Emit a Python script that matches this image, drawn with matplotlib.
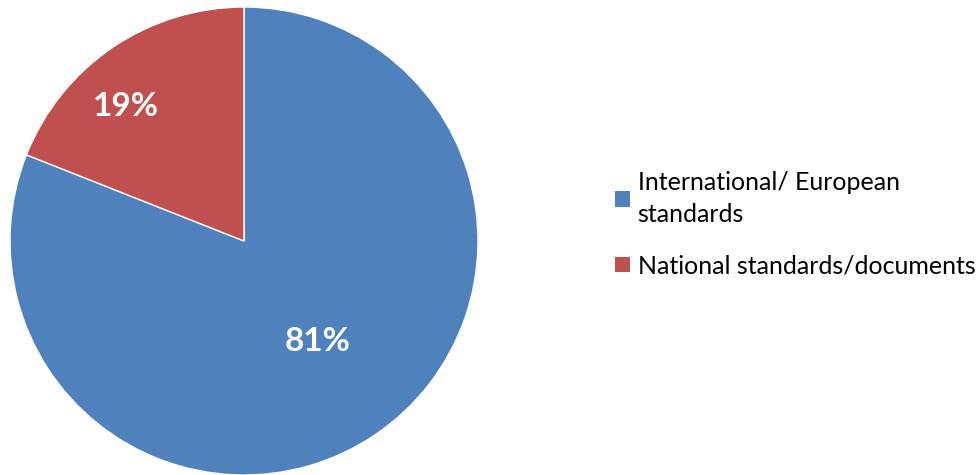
import matplotlib
matplotlib.use("Agg")
import matplotlib.pyplot as plt
import numpy as np
from matplotlib.patches import Patch

categories = ["International/ European\nstandards", "National standards/documents"]
values = [81, 19]
colors = ["#4F81BD", "#C0504D"]
label_radius = [0.53, 0.765]
label_angle_shift = [2, 7]

plt.rcParams['font.family'] = ['Lato', 'DejaVu Sans']

fig = plt.figure(figsize=(9.77, 4.75), dpi=100)
ax = fig.add_axes([10/977, 0, 468/977, 468/475])
wedges, _ = ax.pie(values, colors=colors, startangle=90, counterclock=False,
                   wedgeprops=dict(edgecolor="white", linewidth=1))
for w, v, r, s in zip(wedges, values, label_radius, label_angle_shift):
    ang = np.deg2rad((w.theta1 + w.theta2) / 2 + s)
    ax.text(r * np.cos(ang), r * np.sin(ang), f"{v}%", color="white",
            fontsize=24, fontweight="bold", ha="center", va="center")
ax.set_xlim(-1, 1)
ax.set_ylim(-1, 1)
ax.set_aspect("equal")

handles = [Patch(facecolor=c, edgecolor="none") for c in colors]
leg = fig.legend(handles, categories, loc="upper left", bbox_to_anchor=(615/977, 1 - 171/475),
                 frameon=False, fontsize=18, handlelength=0.6, handleheight=0.6,
                 handletextpad=0.3, labelspacing=1.15, borderaxespad=0, borderpad=0)
for t in leg.get_texts():
    t.set_linespacing(1.45)
fig.savefig("out.png", dpi=100)
